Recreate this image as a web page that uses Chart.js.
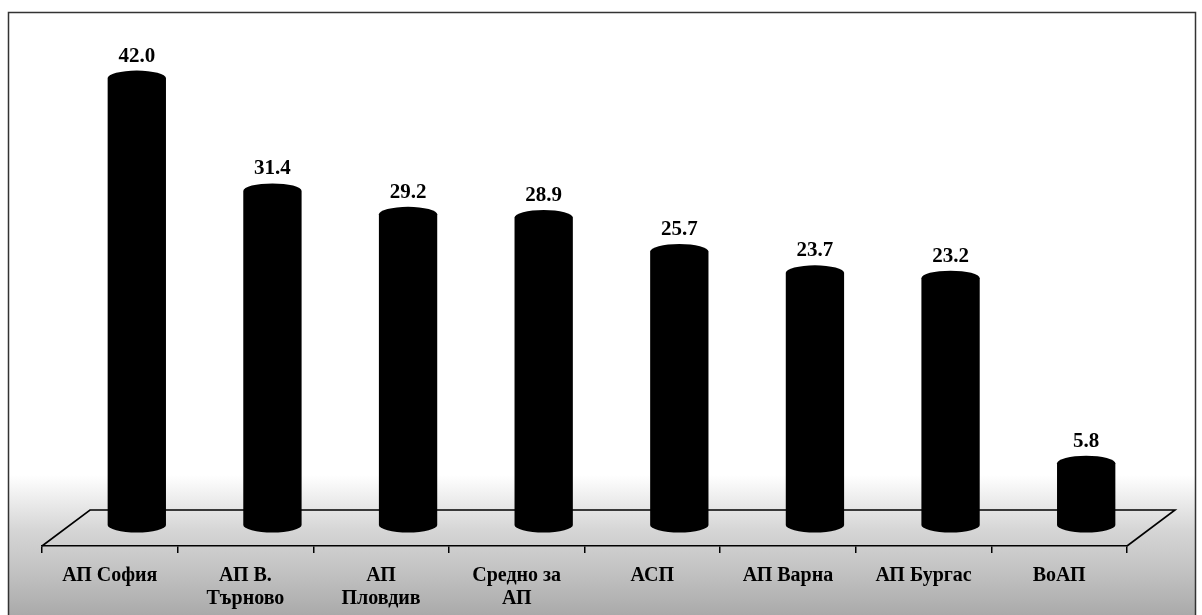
<!DOCTYPE html>
<html>
<head>
<meta charset="utf-8">
<script src="https://cdn.jsdelivr.net/npm/chart.js@4"></script>
<style>
  html, body { margin: 0; padding: 0; background: #fff; }
  #wrap { width: 1202px; height: 615px; }
</style>
</head>
<body>
<div id="wrap"><canvas id="chart"></canvas></div>
<script>
const categories = [
    'АП София',
    ['АП В.', 'Търново'],
    ['АП', 'Пловдив'],
    ['Средно за', 'АП'],
    'АСП',
    'АП Варна',
    'АП Бургас',
    'ВоАП'
];
const values = [42.0, 31.4, 29.2, 28.9, 25.7, 23.7, 23.2, 5.8];

const FONT = '"Liberation Serif", "Times New Roman", serif';
const DEPTH_X = 48, DEPTH_Y = 36;   // floor depth
const BAR_DX = 27, BAR_DY = 21;     // bar position inside floor depth

// white page, grey scanned band at the bottom, frame
const backdrop = {
    id: 'backdrop',
    beforeDraw(chart) {
        const ctx = chart.ctx;
        ctx.save();
        ctx.fillStyle = '#fff';
        ctx.fillRect(0, 0, chart.width, chart.height);
        const g = ctx.createLinearGradient(0, 475, 0, chart.height);
        g.addColorStop(0, 'rgba(185,185,185,0)');
        g.addColorStop(0.4, 'rgba(185,185,185,0.6)');
        g.addColorStop(1, 'rgba(165,165,165,0.95)');
        ctx.fillStyle = g;
        ctx.fillRect(8, 475, chart.width - 14, chart.height - 475);
        ctx.strokeStyle = '#333';
        ctx.lineWidth = 1.5;
        ctx.strokeRect(8.5, 12.5, chart.width - 15, chart.height);
        ctx.restore();
    }
};

// the 3D floor behind the bars
const floor = {
    id: 'floor',
    beforeDatasetsDraw(chart) {
        const { ctx, chartArea: a } = chart;
        ctx.save();
        ctx.strokeStyle = '#000';
        ctx.lineWidth = 1.6;
        ctx.beginPath();
        ctx.moveTo(a.left, a.bottom);
        ctx.lineTo(a.left + DEPTH_X, a.bottom - DEPTH_Y);
        ctx.lineTo(a.right + DEPTH_X, a.bottom - DEPTH_Y);
        ctx.lineTo(a.right, a.bottom);
        ctx.stroke();
        ctx.restore();
    }
};

// cylinders + value labels
const cylinders = {
    id: 'cylinders',
    afterDatasetsDraw(chart) {
        const ctx = chart.ctx;
        const meta = chart.getDatasetMeta(0);
        ctx.save();
        meta.data.forEach((bar, i) => {
            const p = bar.getProps(['x', 'y', 'base', 'width'], true);
            const cx = p.x + BAR_DX;
            const top = p.y - BAR_DY;
            const bottom = p.base - BAR_DY;
            const rx = p.width / 2;
            const ry = 7.5;
            ctx.fillStyle = '#000';
            ctx.beginPath();
            ctx.moveTo(cx - rx, top);
            ctx.lineTo(cx - rx, bottom);
            ctx.ellipse(cx, bottom, rx, ry, 0, Math.PI, 0, true);
            ctx.lineTo(cx + rx, top);
            ctx.ellipse(cx, top, rx, ry, 0, 0, -Math.PI, true);
            ctx.closePath();
            ctx.fill();

            ctx.font = 'bold 21px ' + FONT;
            ctx.textAlign = 'center';
            ctx.textBaseline = 'alphabetic';
            ctx.fillText(values[i].toFixed(1), cx, top - ry - 9);
        });
        ctx.restore();
    }
};

new Chart(document.getElementById('chart'), {
    type: 'bar',
    data: {
        labels: categories,
        datasets: [{
            data: values,
            backgroundColor: 'rgba(0,0,0,0)',
            borderWidth: 0,
            categoryPercentage: 1,
            barPercentage: 0.43
        }]
    },
    options: {
        responsive: true,
        maintainAspectRatio: false,
        animation: false,
        layout: { padding: { left: 42, right: 75, top: 14, bottom: 0 } },
        plugins: {
            legend: { display: false },
            tooltip: { enabled: false }
        },
        scales: {
            x: {
                afterFit: s => { s.height = 69; },
                grid: {
                    display: true,
                    offset: true,
                    drawOnChartArea: false,
                    drawTicks: true,
                    tickLength: 7,
                    color: '#000',
                    lineWidth: 1.5
                },
                border: { display: true, color: '#000', width: 1.6 },
                ticks: {
                    color: '#000',
                    padding: 11,
                    maxRotation: 0,
                    autoSkip: false,
                    font: { family: FONT, size: 20, weight: 'bold', lineHeight: 1.15 }
                }
            },
            y: {
                display: false,
                min: 0,
                max: 50
            }
        }
    },
    plugins: [backdrop, floor, cylinders]
});
</script>
</body>
</html>
